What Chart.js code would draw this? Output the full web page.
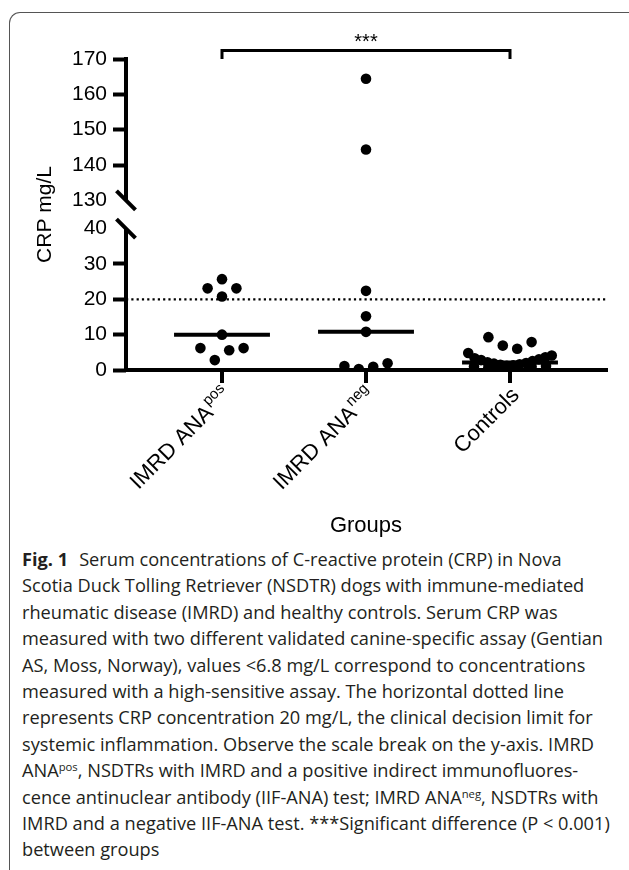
<!DOCTYPE html>
<html>
<head>
<meta charset="utf-8">
<script src="https://cdn.jsdelivr.net/npm/chart.js@4"></script>
<style>
  html, body { margin: 0; padding: 0; background: #fff; width: 629px; height: 870px; overflow: hidden; }
  #frame { position: absolute; left: 9px; top: 12px; width: 700px; height: 900px;
           border-left: 1.2px solid #555; border-top: 1.2px solid #555; border-top-left-radius: 11px; }
  #chart { position: absolute; left: 0; top: 0; }
  #caption { position: absolute; left: 22px; top: 546px; font-family: "Open Sans", "Noto Sans", sans-serif;
             font-size: 18.2px; line-height: 26.4px; color: #231f20; }
  #caption div { white-space: nowrap; height: 26.4px; }
  #caption b { font-weight: 700; margin-right: 11px; }
  #caption sup { font-size: 0.62em; line-height: 0; vertical-align: baseline; position: relative; top: -0.5em; }
</style>
</head>
<body>
<div id="frame"></div>
<canvas id="chart" width="629" height="545"></canvas>
<div id="caption">
  <div><b>Fig. 1</b>Serum concentrations of C-reactive protein (CRP) in Nova</div>
  <div>Scotia Duck Tolling Retriever (NSDTR) dogs with immune-mediated</div>
  <div>rheumatic disease (IMRD) and healthy controls. Serum CRP was</div>
  <div>measured with two different validated canine-specific assay (Gentian</div>
  <div>AS, Moss, Norway), values &lt;6.8 mg/L correspond to concentrations</div>
  <div>measured with a high-sensitive assay. The horizontal dotted line</div>
  <div>represents CRP concentration 20 mg/L, the clinical decision limit for</div>
  <div>systemic inflammation. Observe the scale break on the y-axis. IMRD</div>
  <div>ANA<sup>pos</sup>, NSDTRs with IMRD and a positive indirect immunofluores-</div>
  <div>cence antinuclear antibody (IIF-ANA) test; IMRD ANA<sup>neg</sup>, NSDTRs with</div>
  <div>IMRD and a negative IIF-ANA test. ***Significant difference (P &lt; 0.001)</div>
  <div>between groups</div>
</div>
<script>
// ---------- data ----------
const categories = ['IMRD ANA', 'IMRD ANA', 'Controls'];
const categorySup = ['pos', 'neg', ''];
const anaPos = [23.1, 25.7, 23.1, 20.8, 10.0, 6.2, 2.8, 5.6, 6.2];
const anaNeg = [164.4, 144.4, 22.4, 15.2, 10.8, 1.1, 0.3, 0.9, 1.9];
const controls = [9.3, 6.9, 6.0, 7.9,
                  4.8, 3.3, 2.8, 2.2, 1.8, 1.5, 1.2, 1.3, 1.6, 2.0, 2.5, 3.0, 3.6, 4.1,
                  1.0, 0.8, 0.6, 0.7, 0.9, 1.1];
const yTickLabels = [0, 10, 20, 30, 40, 130, 140, 150, 160, 170];
const clinicalLimit = 20;
const significanceLabel = '***';
const yTitle = 'CRP mg/L';
const xTitle = 'Groups';

// ---------- scale break mapping ----------
const LOW_MAX = 40, HIGH_MIN = 130, GAP = 8;
const brk = v => v <= LOW_MAX + 45 ? v : v - HIGH_MIN + LOW_MAX + GAP;
const unbrk = t => t <= LOW_MAX ? t : t - LOW_MAX - GAP + HIGH_MIN;

// ---------- scatter-dot layout (Prism-like rows) ----------
const BIN_RANGE = 3.6, DOT_STEP = 0.1, MAX_HALF = 0.29;
function swarm(values, cat) {
  const order = values.map((v, i) => i).sort((a, b) => values[b] - values[a]);
  const bins = [];
  let cur = null;
  for (const i of order) {
    if (!cur || cur.start - values[i] > BIN_RANGE) { cur = { start: values[i], m: [] }; bins.push(cur); }
    cur.m.push(i);
  }
  const out = new Array(values.length);
  for (const b of bins) {
    const m = b.m.sort((a, c) => a - c), n = m.length;
    const step = n > 1 ? Math.min(DOT_STEP, 2 * MAX_HALF / (n - 1)) : 0;
    m.forEach((i, k) => { out[i] = { x: cat + (k - (n - 1) / 2) * step, y: brk(values[i]) }; });
  }
  return out;
}
function median(a) {
  const s = [...a].sort((x, y) => x - y), n = s.length;
  return n % 2 ? s[(n - 1) / 2] : (s[n / 2 - 1] + s[n / 2]) / 2;
}
const groups = [anaPos, anaNeg, controls];
const MED_HALF = 0.333;
const X_MIN = 1 / 3, X_MAX = 3 + 2 / 3;

const FONT = '"Liberation Sans", Arial, Helvetica, sans-serif';

const pointSets = groups.map((g, i) => ({
  type: 'scatter', data: swarm(g, i + 1), backgroundColor: '#000', borderColor: '#000',
  pointRadius: 5.3, pointHoverRadius: 5.3, borderWidth: 0
}));
const medianSets = groups.map((g, i) => ({
  type: 'line', data: [{ x: i + 1 - MED_HALF, y: brk(median(g)) }, { x: i + 1 + MED_HALF, y: brk(median(g)) }],
  borderColor: '#000', borderWidth: 4, pointRadius: 0, fill: false
}));
const limitSet = {
  type: 'line', data: [{ x: X_MIN, y: brk(clinicalLimit) }, { x: X_MAX, y: brk(clinicalLimit) }],
  borderColor: '#000', borderWidth: 2.2, borderDash: [2.2, 3.1], pointRadius: 0, fill: false
};

const hiddenTicks = [brk(LOW_MAX), brk(HIGH_MIN)];

const decor = {
  id: 'decor',
  afterDraw(chart) {
    const ctx = chart.ctx, ys = chart.scales.y, xs = chart.scales.x;
    const ax = chart.chartArea.left;
    ctx.save();
    ctx.strokeStyle = '#000'; ctx.fillStyle = '#000'; ctx.lineCap = 'butt';
    // axis segments
    ctx.lineWidth = 4;
    ctx.beginPath();
    ctx.moveTo(ax, ys.getPixelForValue(brk(170)) - 2); ctx.lineTo(ax, ys.getPixelForValue(brk(HIGH_MIN)));
    ctx.moveTo(ax, ys.getPixelForValue(brk(LOW_MAX))); ctx.lineTo(ax, ys.getPixelForValue(0) + 2);
    ctx.stroke();
    // break slashes
    for (const v of [HIGH_MIN, LOW_MAX]) {
      const y = ys.getPixelForValue(brk(v));
      ctx.beginPath(); ctx.moveTo(ax - 9.5, y - 9.5); ctx.lineTo(ax + 9.5, y + 9.5); ctx.stroke();
    }
    // significance bracket
    const x1 = xs.getPixelForValue(1), x3 = xs.getPixelForValue(3);
    const top = chart.chartArea.top;
    ctx.lineWidth = 3;
    ctx.beginPath();
    ctx.moveTo(x1, top); ctx.lineTo(x1, top - 8.5); ctx.lineTo(x3, top - 8.5); ctx.lineTo(x3, top);
    ctx.stroke();
    ctx.font = '20px ' + FONT; ctx.textAlign = 'center'; ctx.textBaseline = 'alphabetic';
    ctx.fillText(significanceLabel, xs.getPixelForValue(2), top - 11);
    // x category labels (rotated, with superscripts)
    categories.forEach((c, i) => {
      const x = xs.getPixelForValue(i + 1);
      ctx.save();
      ctx.translate(x + 6, ys.getPixelForValue(0) + 22);
      ctx.rotate(-Math.PI / 4);
      ctx.textAlign = 'right'; ctx.textBaseline = 'middle';
      let end = 0;
      if (categorySup[i]) {
        ctx.font = '15px ' + FONT;
        ctx.fillText(categorySup[i], 0, -8);
        end = -ctx.measureText(categorySup[i]).width - 1;
      }
      ctx.font = '22px ' + FONT;
      ctx.fillText(c, end, 0);
      ctx.restore();
    });
    ctx.restore();
  }
};

new Chart(document.getElementById('chart'), {
  data: { datasets: [...pointSets, ...medianSets, limitSet] },
  options: {
    responsive: false, animation: false, devicePixelRatio: 1,
    layout: { padding: { top: 59, right: 23, bottom: 0, left: 0 } },
    plugins: { legend: { display: false }, tooltip: { enabled: false } },
    scales: {
      x: {
        type: 'linear', min: X_MIN, max: X_MAX,
        afterBuildTicks: s => { s.ticks = categories.map((c, i) => ({ value: i + 1 })); },
        afterFit: s => { s.height = 175; },
        ticks: { display: false },
        grid: { drawOnChartArea: false, drawTicks: true, tickLength: 13, tickWidth: 4, color: '#000', lineWidth: 4 },
        border: { display: true, width: 4, color: '#000' },
        title: { display: true, text: xTitle, color: '#000', font: { family: FONT, size: 22 }, padding: { top: 0, bottom: 6 } }
      },
      y: {
        type: 'linear', min: 0, max: brk(170),
        afterBuildTicks: s => { s.ticks = yTickLabels.map(v => ({ value: brk(v) })); },
        afterFit: s => { s.width = 126; },
        ticks: { color: '#000', padding: 6, font: { family: FONT, size: 21 }, callback: v => String(Math.round(unbrk(v))) },
        grid: { drawOnChartArea: false, drawTicks: true, tickLength: 13, tickWidth: 4,
                color: c => (c.tick && hiddenTicks.includes(c.tick.value)) ? 'rgba(0,0,0,0)' : '#000' },
        border: { display: false },
        title: { display: true, text: yTitle, color: '#000', font: { family: FONT, size: 21 }, padding: { top: 33, bottom: 0 } }
      }
    }
  },
  plugins: [decor]
});
</script>
</body>
</html>
